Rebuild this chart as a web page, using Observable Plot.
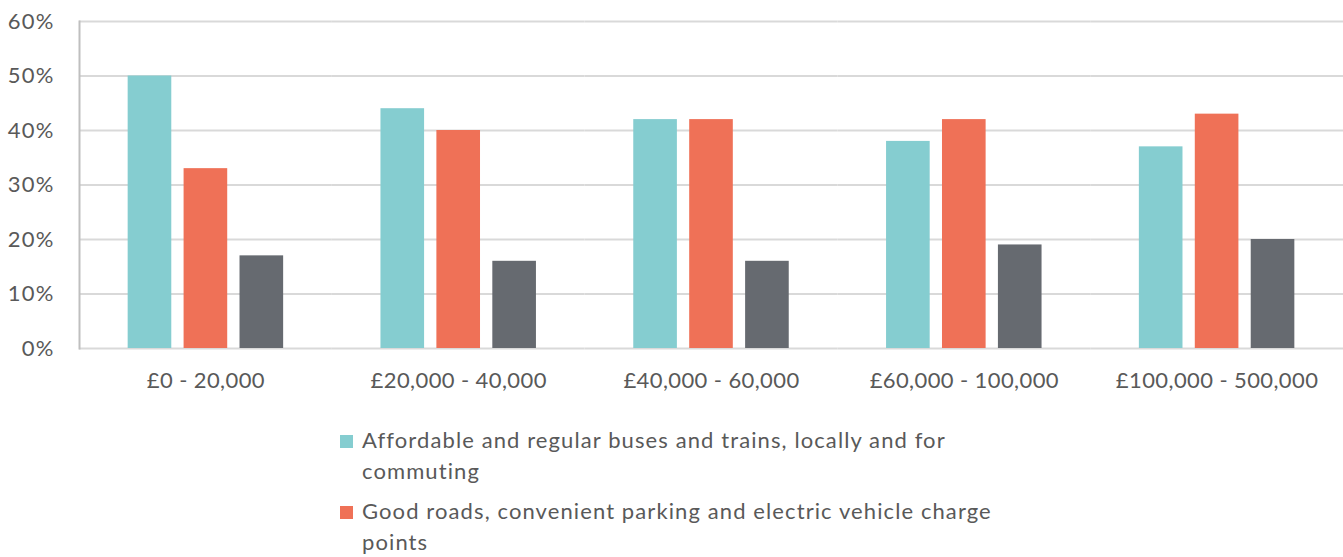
<!DOCTYPE html>
<html>
<head>
<meta charset="utf-8">
<script src="https://cdn.jsdelivr.net/npm/d3@7"></script>
<script src="https://cdn.jsdelivr.net/npm/@observablehq/plot@0.6"></script>
<style>
  html, body { margin: 0; padding: 0; background: #fff; overflow: hidden; }
  body { width: 1343px; height: 557px; position: relative; font-family: Lato, "Open Sans", sans-serif; color: #595959; }
  #chart { position: absolute; left: 0; top: 0; }
  #legend { position: absolute; left: 340px; top: 424px; width: 690px; font-size: 22px; line-height: 31px; letter-spacing: 1.1px; }
  .item { display: flex; align-items: flex-start; margin-bottom: 9px; }
  .sw { width: 13px; height: 13px; flex: none; margin-top: 11px; margin-right: 9px; }
  #chart svg g[aria-label="y-axis tick label"] text { letter-spacing: 1.2px; }
</style>
</head>
<body>
<div id="chart"></div>
<div id="legend"></div>
<script>
const categories = ["£0 - 20,000", "£20,000 - 40,000", "£40,000 - 60,000", "£60,000 - 100,000", "£100,000 - 500,000"];
const seriesNames = [
  "Affordable and regular buses and trains, locally and for commuting",
  "Good roads, convenient parking and electric vehicle charge points",
  "Neither / don't know"
];
const legendShown = 2; // the reference shows only the first two legend entries
const busesTrains = [50, 44, 42, 38, 37];
const roadsParking = [33, 40, 42, 42, 43];
const thirdSeries = [17, 16, 16, 19, 20];
const colors = ["#85CDD0", "#EF7157", "#666A70"];
const yTicks = [0, 10, 20, 30, 40, 50, 60];

const valuesBySeries = [busesTrains, roadsParking, thirdSeries];
const data = [];
categories.forEach((c, i) => {
  seriesNames.forEach((s, j) => data.push({category: c, series: s, value: valuesBySeries[j][i]}));
});

const chart = Plot.plot({
  width: 1343,
  height: 410,
  marginLeft: 79,
  marginRight: 0,
  marginTop: 21,
  marginBottom: 62,
  style: {fontFamily: "Lato, 'Open Sans', sans-serif", fontSize: "22px", color: "#595959", background: "white", letterSpacing: "0.4px"},
  fx: {domain: categories, padding: 0, round: false, label: null, tickSize: 0, tickPadding: 24},
  x: {domain: seriesNames, paddingInner: 0.22, paddingOuter: 0.87, round: false, axis: null},
  y: {domain: [0, 60], ticks: yTicks, tickFormat: d => d + "%", tickSize: 0, tickPadding: 25, label: null},
  color: {domain: seriesNames, range: colors},
  marks: [
    Plot.ruleY(yTicks, {stroke: "#d9d9d9", strokeWidth: 2}),
    Plot.barY(data, {fx: "category", x: "series", y: "value", fill: "series"}),
    Plot.frame({anchor: "left", stroke: "#bfbfbf", strokeWidth: 2, facetAnchor: "left"})
  ]
});
document.getElementById("chart").appendChild(chart);

const legend = document.getElementById("legend");
seriesNames.slice(0, legendShown).forEach((s, j) => {
  const item = document.createElement("div");
  item.className = "item";
  const sw = document.createElement("span");
  sw.className = "sw";
  sw.style.background = colors[j];
  const t = document.createElement("span");
  t.textContent = s;
  item.appendChild(sw);
  item.appendChild(t);
  legend.appendChild(item);
});
</script>
</body>
</html>
